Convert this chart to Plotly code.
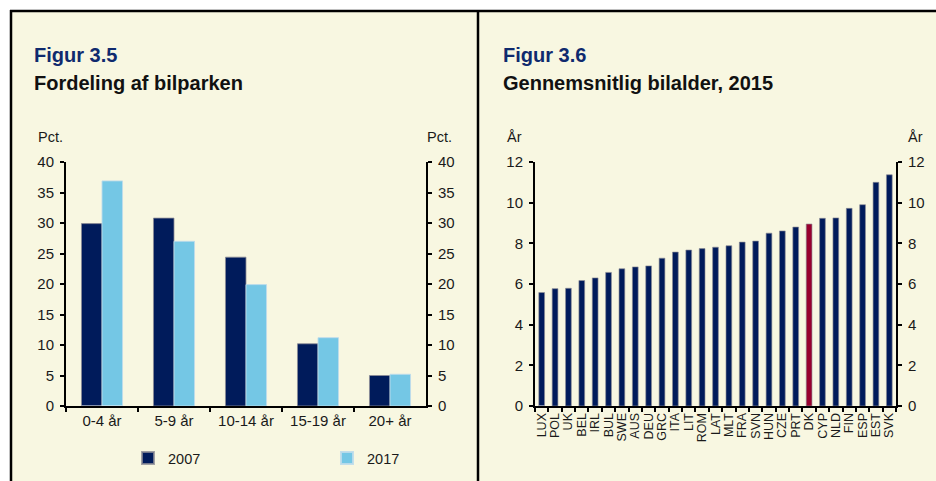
import plotly.graph_objects as go

# ---------------- data ----------------
age_groups = ["0-4 år", "5-9 år", "10-14 år", "15-19 år", "20+ år"]
share_2007 = [29.9, 30.8, 24.4, 10.2, 5.0]
share_2017 = [36.9, 27.0, 19.9, 11.2, 5.2]

countries = ["LUX", "POL", "UK", "BEL", "IRL", "BUL", "SWE", "AUS", "DEU", "GRC",
             "ITA", "LIT", "ROM", "LAT", "MLT", "FRA", "SVN", "HUN", "CZE", "PRT",
             "DK", "CYP", "NLD", "FIN", "ESP", "EST", "SVK"]
avg_age = [5.58, 5.77, 5.79, 6.17, 6.30, 6.57, 6.75, 6.84, 6.89, 7.27,
           7.57, 7.67, 7.74, 7.81, 7.88, 8.06, 8.11, 8.50, 8.61, 8.80,
           8.95, 9.23, 9.25, 9.72, 9.90, 11.00, 11.37]
highlight = "DK"

left_ticks = [0, 5, 10, 15, 20, 25, 30, 35, 40]
right_ticks = [0, 2, 4, 6, 8, 10, 12]

# ---------------- style ----------------
W, H = 936, 481
CREAM = "#F8F7E1"
NAVY = "#001B5B"
LIGHT = "#74C7E5"
RED = "#98002E"
TITLE_BLUE = "#0F2A6E"
FONT = "Liberation Sans, Arial, sans-serif"


def px(x):
    return x / W


def py(y):
    return 1 - y / H


fig = go.Figure()

fig.add_trace(go.Bar(x=age_groups, y=share_2007, name="2007", marker_color=NAVY,
                     marker_line=dict(color="rgba(140,140,150,0.8)", width=1),
                     xaxis="x", yaxis="y"))
fig.add_trace(go.Bar(x=age_groups, y=share_2017, name="2017", marker_color=LIGHT,
                     marker_line=dict(color="rgba(190,220,235,0.9)", width=1),
                     xaxis="x", yaxis="y"))

bar_colors = [RED if c == highlight else NAVY for c in countries]
fig.add_trace(go.Bar(x=countries, y=avg_age, marker_color=bar_colors,
                     marker_line=dict(color="rgba(140,140,150,0.8)", width=0.8),
                     width=0.43, showlegend=False, xaxis="x2", yaxis="y3"))

tickfont = dict(family=FONT, size=15, color="#1a1a1a")
common_y = dict(showgrid=False, zeroline=False, showline=True, linecolor="black",
                linewidth=2, ticks="outside", ticklen=4, tickwidth=1.5,
                tickcolor="black", tickfont=tickfont, automargin=False,
                ticklabelstandoff=3)
common_x = dict(showgrid=False, zeroline=False, showline=True, linecolor="black",
                linewidth=2, ticks="outside", ticklen=4, tickwidth=1.5,
                tickcolor="black", tickson="boundaries", type="category",
                automargin=False)

ydom = [py(406), py(162)]

fig.update_layout(
    width=W, height=H,
    margin=dict(l=0, r=0, t=0, b=0),
    paper_bgcolor="white", plot_bgcolor="rgba(0,0,0,0)",
    font=dict(family=FONT, size=14, color="#1a1a1a"),
    barmode="group", bargap=0.43, bargroupgap=0,
    xaxis=dict(domain=[px(66), px(426)], anchor="y", tickfont=tickfont, **common_x),
    yaxis=dict(domain=ydom, range=[0, 40], tickvals=left_ticks, side="left",
               anchor="x", **common_y),
    yaxis2=dict(domain=ydom, range=[0, 40], tickvals=left_ticks, side="right",
                anchor="x", overlaying="y", matches="y", **common_y),
    xaxis2=dict(domain=[px(535), px(896)], anchor="y3", tickangle=-90,
                tickmode="array", tickvals=countries, ticktext=countries,
                tickfont=dict(family=FONT, size=12.5, color="#1a1a1a"), **common_x),
    yaxis3=dict(domain=ydom, range=[0, 12], tickvals=right_ticks, side="left",
                anchor="x2", **common_y),
    yaxis4=dict(domain=ydom, range=[0, 12], tickvals=right_ticks, side="right",
                anchor="x2", overlaying="y3", matches="y3", **common_y),
    legend=dict(orientation="h", x=px(128), y=py(458), xanchor="left", yanchor="middle",
                entrywidth=154, entrywidthmode="pixels", bgcolor="rgba(0,0,0,0)",
                font=dict(family=FONT, size=14.5, color="#1a1a1a"), itemsizing="constant",
                traceorder="normal"),
)

# invisible helper traces so the right-hand axes are drawn
fig.add_trace(go.Bar(x=[age_groups[0]], y=[0], xaxis="x", yaxis="y2", showlegend=False,
                     hoverinfo="skip", marker_color="rgba(0,0,0,0)"))
fig.add_trace(go.Bar(x=[countries[0]], y=[0], xaxis="x2", yaxis="y4", showlegend=False,
                     hoverinfo="skip", marker_color="rgba(0,0,0,0)", width=0.43))

shapes = [
    dict(type="rect", xref="paper", yref="paper", x0=px(10), x1=1, y0=0, y1=py(10),
         fillcolor=CREAM, line_width=0, layer="below"),
    dict(type="line", xref="paper", yref="paper", x0=px(10), x1=1, y0=py(11), y1=py(11),
         line=dict(color="black", width=2.5)),
    dict(type="line", xref="paper", yref="paper", x0=px(11), x1=px(11), y0=0, y1=py(10),
         line=dict(color="black", width=2.5)),
    dict(type="line", xref="paper", yref="paper", x0=px(478), x1=px(478), y0=0, y1=py(10),
         line=dict(color="black", width=2.5)),
]
fig.update_layout(shapes=shapes)


def ann(text, x, y, size=14, color="#1a1a1a", bold=False, xanchor="left"):
    t = f"<b>{text}</b>" if bold else text
    fig.add_annotation(text=t, x=px(x), y=py(y), xref="paper", yref="paper",
                       xanchor=xanchor, yanchor="middle", showarrow=False,
                       font=dict(family=FONT, size=size, color=color))


ann("Figur 3.5", 32, 55, size=20, color=TITLE_BLUE, bold=True)
ann("Fordeling af bilparken", 32, 83, size=20, color="#111111", bold=True)
ann("Figur 3.6", 501, 55, size=20, color=TITLE_BLUE, bold=True)
ann("Gennemsnitlig bilalder, 2015", 501, 83, size=20, color="#111111", bold=True)
ann("Pct.", 36, 137, size=14.5)
ann("Pct.", 454, 137, size=14.5, xanchor="right")
ann("År", 505, 137, size=14.5)
ann("År", 925, 137, size=14.5, xanchor="right")

page_js = ("document.documentElement.style.margin='0';"
           "document.documentElement.style.padding='0';"
           "document.body.style.margin='0';document.body.style.padding='0';"
           "document.body.style.overflow='hidden';")
fig.write_html("out.html", post_script=page_js, config={"displayModeBar": False})
